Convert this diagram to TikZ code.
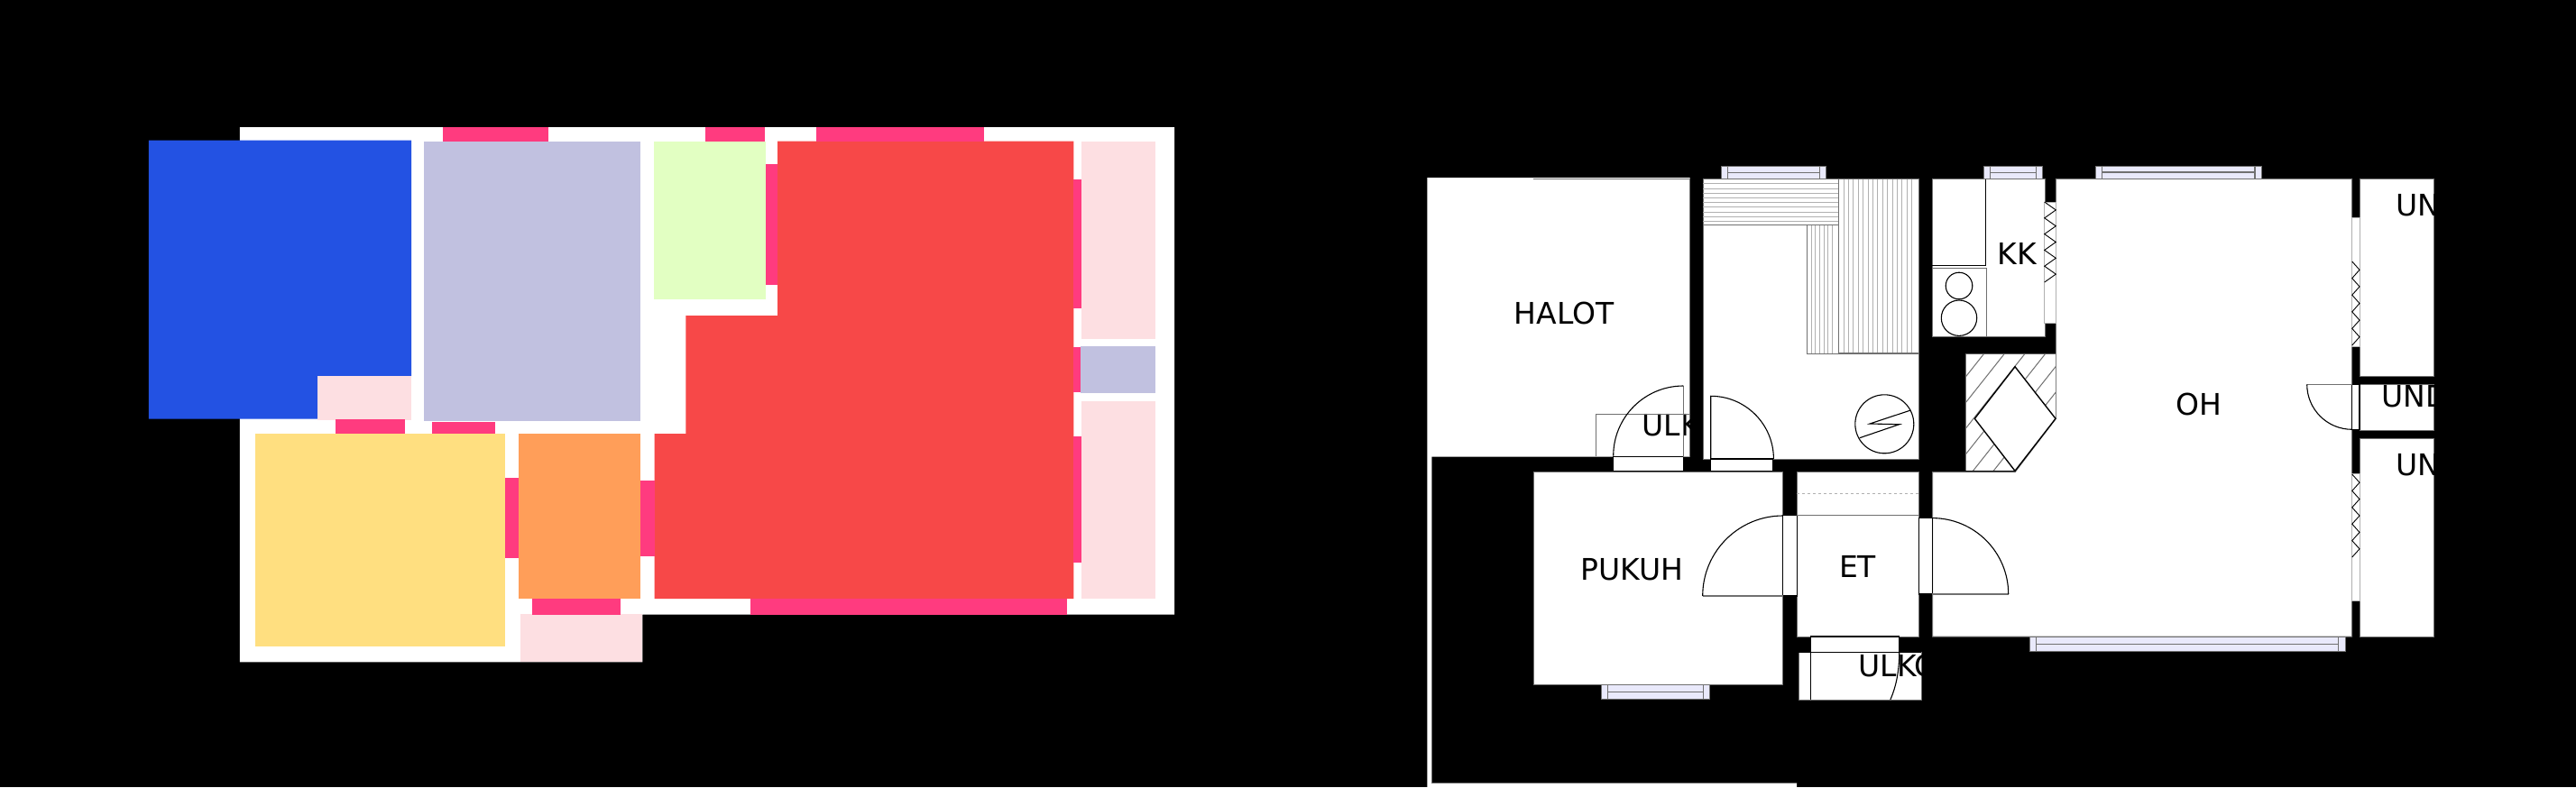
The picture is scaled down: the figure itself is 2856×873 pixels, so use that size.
\documentclass[tikz,border=0pt]{standalone}
\usepackage{fontspec}
\setmainfont{DejaVu Sans}

\definecolor{sleepblue}{HTML}{2352E3}
\definecolor{lilac}{HTML}{C1C1E0}
\definecolor{limegreen}{HTML}{E2FFC2}
\definecolor{livingred}{HTML}{F74848}
\definecolor{hotpink}{HTML}{FF3B7F}
\definecolor{palepink}{HTML}{FDDFE2}
\definecolor{sandyellow}{HTML}{FFDF80}
\definecolor{hallorange}{HTML}{FF9E59}
\definecolor{glass}{HTML}{E9E9FB}
\definecolor{wallgray}{HTML}{707070}
\definecolor{hatchgray}{HTML}{B0B0B0}

\tikzset{
  room/.style={fill=white, draw=wallgray, line width=1pt},
  doorway/.style={fill=white, draw=black, line width=1.2pt},
  leaf/.style={draw=black, line width=1.1pt},
  roomname/.style={inner sep=0pt, font=\fontsize{33}{40}\selectfont, text=black},
  hatchline/.style={draw=hatchgray, line width=1pt},
  pane/.style={fill=glass, draw=wallgray, line width=1pt}
}

\begin{document}
\begin{tikzpicture}[x=1pt,y=-1pt]
  \useasboundingbox (0,0) rectangle (2856,873);
  \fill [black] (0,0) rectangle (2856,873);

  % colour plan
  \fill [white] (265.9,141.2) -- (1302.1,141.2) -- (1302.1,681.6) -- (712.4,681.6)
         -- (712.4,734.3) -- (265.9,734.3) -- cycle;
  \fill [sleepblue] (164.8,155.5) -- (456.1,155.5) -- (456.1,417.1) -- (352.1,417.1)
         -- (352.1,464.5) -- (164.8,464.5) -- cycle;
  \fill [livingred] (862.1,156.7) -- (1190.4,156.7) -- (1190.4,664.1) -- (725.5,664.1)
         -- (725.5,481.2) -- (760.4,481.2) -- (760.4,350.2) -- (862.1,350.2) -- cycle;
  \fill [lilac] (470.4,157.1) rectangle (709.9,466.9);
  \fill [lilac] (1198.2,384.1) rectangle (1281,436.3);
  \fill [limegreen] (724.6,157.1) rectangle (848.9,331.8);
  \fill [sandyellow] (283.1,481.2) rectangle (559.6,717.1);
  \fill [hallorange] (574.8,481.2) rectangle (709.9,664.1);
  \foreach \xa/\ya/\xb/\yb in {352.1/417.1/456.1/466, 1198.6/156.7/1281/375.9,
      1198.6/444.9/1281/664.1, 576.5/681.2/712.4/734.3}
    \fill [palepink] (\xa,\ya) rectangle (\xb,\yb);
  \foreach \xa/\ya/\xb/\yb in {490.6/141.2/608/157.1, 781.5/141.2/847.9/157.1,
      905.4/141.2/1090.7/157.1, 849.3/182.4/862.1/316.3, 1190.4/199.2/1198.6/341.6,
      1190.4/385.3/1197.9/435.1, 1190.4/484.1/1198.6/624.1, 832.1/664.1/1182.9/681.6,
      371.5/464.5/449.4/481.2, 478.8/467.8/548.7/481.2, 559.6/530.2/574.8/619.2,
      709.9/533.1/725.5/617.1, 590/664.1/688.4/681.6}
    \fill [hotpink] (\xa,\ya) rectangle (\xb,\yb);

  % floor plan: rooms
  \fill [white] (1582.3,197) -- (1873.7,197) -- (1873.7,506.7) -- (1587.3,506.7)
         -- (1587.3,868.3) -- (1992,868.3) -- (1992,873) -- (1582.3,873) -- cycle;
  \draw [room] (1587.3,868.3) -- (1992,868.3);
  \draw [room] (1587.3,506.7) -- (1587.3,868.3);
  \draw [room] (1700,198) -- (1873.7,198) -- (1873.7,506.7);

  \path [room] (1888,198.7) rectangle (2127.3,509);
  \path [room] (2142,198.7) rectangle (2267,373.7);
  \path [room] (1700.3,523.3) rectangle (1976.7,759);
  \path [room] (1992.3,523.7) rectangle (2127.3,706);
  \path [room] (1994,723.3) rectangle (2130.3,776.3);
  \path [room] (2279.3,198.3) -- (2607.7,198.3) -- (2607.7,706) -- (2142.5,706)
         -- (2142.5,523.7) -- (2234,523.7) -- (2279.3,464.3) -- cycle;
  \foreach \ya/\yb in {198.3/417.3, 426.7/477.3, 486.7/706}
    \path [room] (2616,\ya) rectangle (2698.3,\yb);

  % names
  \node [roomname, anchor=base] (halot) at (1734.3,359) {HALOT};
  \node [roomname, anchor=base] (pukuh) at (1809.5,643.3) {PUKUH};
  \node [roomname, anchor=base] (et) at (2059.5,640.7) {ET};
  \node [roomname, anchor=base] (kk) at (2236.6,293.3) {KK};
  \node [roomname, anchor=base] (oh) at (2438,460.7) {OH};
  \node [roomname, anchor=base west] (ulkupper) at (1820.3,483.3) {ULK};
  \node [roomname, anchor=base west] (ulklower) at (2060.3,750) {ULKO};
  \node [roomname, anchor=base west] (unupper) at (2656,239.3) {UN};
  \node [roomname, anchor=base west] (unmiddle) at (2640.3,451.7) {UND};
  \node [roomname, anchor=base west] (unlower) at (2656,527.3) {UN};

  % benches
  \foreach \y in {203.9,209.1,...,246}
    \draw [hatchline] (1888,\y) -- (2038.7,\y);
  \foreach \x in {2008,2012.7,...,2036}
    \draw [hatchline] (\x,249.3) -- (\x,392.7);
  \foreach \x in {2044,2049.4,...,2124}
    \draw [hatchline] (\x,198.7) -- (\x,392);
  \draw [wallgray, line width=1.2pt] (1888,249.3) -- (2038.7,249.3);
  \draw [wallgray, line width=1.2pt] (2003.3,249.3) -- (2003.3,392.7) -- (2038.7,392.7);
  \draw [wallgray, line width=1.2pt] (2038.7,198.7) -- (2038.7,392) -- (2127.3,392);

  % kitchen
  \draw [black, line width=1.1pt] (2142,294.7) -- (2201.3,294.7) -- (2201.3,198.7);
  \draw [wallgray, line width=1.2pt] (2142,297.3) -- (2202.3,297.3) -- (2202.3,373.7);
  \draw [leaf] (2172,317) circle (14.8pt);
  \draw [leaf] (2172,352.7) circle (19.7pt);

  % stove
  \draw [leaf] (2089.3,470.3) circle (32.5pt);
  \draw [leaf] (2061.7,485.7) -- (2105.7,470.7) -- (2073,470) -- (2118.3,455);

  % fireplace
  \fill [white] (2179,392.7) -- (2279,392.7) -- (2279,464.3) -- (2234,522.3) -- (2179,522.3) -- cycle;
  \begin{scope}
    \clip (2179,392.7) -- (2279,392.7) -- (2279,464.3) -- (2234,522.3) -- (2179,522.3) -- cycle;
    \foreach \k in {-1,...,7}
      \draw [wallgray, line width=1pt] ({2199.3+22.7*\k},392.7) -- ({2199.3+22.7*\k-102.7},522.3);
  \end{scope}
  \draw [wallgray, line width=1pt] (2179,392.7) -- (2179,522.3);
  \draw [black, line width=1.2pt] (2179,522.3) -- (2234,522.3);
  \draw [black, fill=white, line width=1.4pt] (2234,406.7) -- (2279,464.3) -- (2234,522.3) -- (2189.3,464.3) -- cycle;

  % openings with zigzag
  \foreach \xa/\xb/\ya/\yb in {2266.7/2279.3/224/358.3, 2607.7/2616/241/384, 2607.7/2616/525.3/666}
    \draw [hatchgray, fill=white, line width=0.8pt] (\xa,\ya) rectangle (\xb,\yb);
  \foreach \xa/\wd/\ya/\st in {2266.7/12.6/224/8.9, 2607.7/8.3/290/9.3, 2607.7/8.3/526/9.2}
    \draw [black, line width=0.9pt] (\xa,\ya) \foreach \k in {1,...,10} { -- ({\xa+\wd*mod(\k,2)},{\ya+\st*\k}) };

  % doors
  \draw [doorway] (1788.7,506.7) rectangle (1866.3,522.7);
  \draw [wallgray, line width=0.7pt] (1769.3,506) -- (1769.3,459.3) -- (1873.7,459.3);
  \draw [wallgray, line width=1.2pt] (1866.3,428) -- (1866.3,506.7);
  \draw [leaf] (1866.3,428) arc[start angle=90, end angle=180, radius=77.6pt];

  \draw [doorway] (1896.7,509) rectangle (1965.7,522.7);
  \draw [leaf] (1896.7,509) -- (1896.7,439.3) arc[start angle=90, end angle=0, radius=69.7pt];

  \draw [doorway] (1976.7,571.7) rectangle (1992.3,661);
  \draw [wallgray, line width=1.2pt] (1976.7,661) -- (1887.7,661);
  \draw [leaf] (1887.7,661) arc[start angle=180, end angle=90, radius=89pt];
  \draw [wallgray, line width=1.2pt] (1992.3,571.7) -- (2127.3,571.7);
  \draw [hatchgray, dashed, line width=0.8pt] (1992.3,547.7) -- (2127.3,547.7);

  \draw [doorway] (2127.7,574.7) rectangle (2142.3,659);
  \draw [wallgray, line width=1.2pt] (2142.3,659) -- (2226.7,659);
  \draw [leaf] (2226.7,659) arc[start angle=0, end angle=90, radius=84.4pt];

  \draw [doorway] (2007.7,706) rectangle (2105.7,723.3);
  \draw [leaf] (1994,723.3) -- (2130.3,723.3);
  \draw [leaf] (2007.7,723.3) -- (2007.7,776.3);
  \draw [leaf] (2105.7,723.3) .. controls (2105.7,745) and (2102,762) .. (2095.7,776.3);
  \draw [room, fill=none] (1994,776.3) -- (2130.3,776.3);

  \draw [doorway] (2607.7,426.7) rectangle (2616,476.7);
  \draw [wallgray, line width=1pt] (2607.7,426.3) -- (2557.7,426.3);
  \draw [leaf] (2557.7,426.3) arc[start angle=180, end angle=270, radius=50pt];

  % windows
  \foreach \xa/\xc/\xd/\xb/\ya/\yb in {1908.3/1915.3/2017.3/2024.7/184/198.7,
      2199.3/2206.7/2257.3/2264.3/184/198.7, 2323/2330.3/2500/2507.3/184/198.3,
      2250/2257.3/2592.7/2600/706/722.7, 1775.7/1782.7/1888.3/1895/759/775.7} {
    \draw [pane] (\xa,\ya) rectangle (\xb,\yb);
    \draw [wallgray, line width=1.2pt] (\xc,\ya) -- (\xc,\yb);
    \draw [wallgray, line width=1.2pt] (\xd,\ya) -- (\xd,\yb);
    \draw [wallgray, line width=1.6pt] (\xc,{(\ya+\yb)/2}) -- (\xd,{(\ya+\yb)/2});
  }
\end{tikzpicture}
\end{document}
